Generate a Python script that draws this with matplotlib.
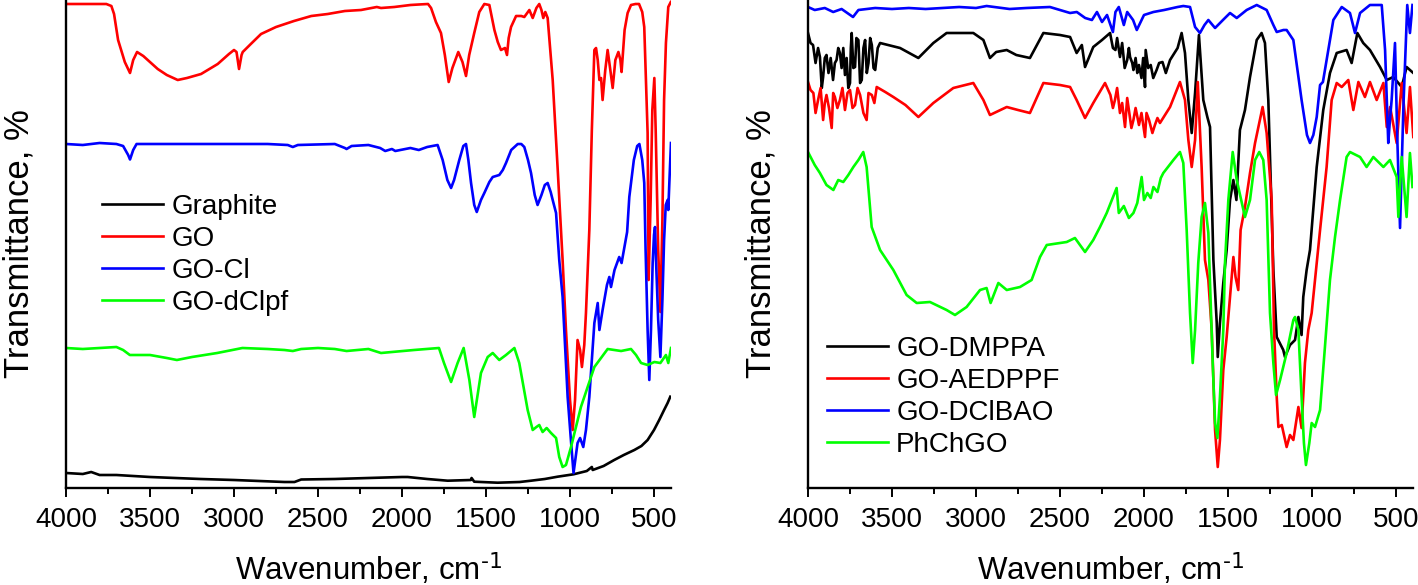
import matplotlib
matplotlib.use('Agg')
import matplotlib.pyplot as plt
from matplotlib.ticker import MultipleLocator, NullLocator

plt.rcParams['font.family'] = ['Liberation Sans', 'DejaVu Sans']
plt.rcParams['mathtext.default'] = 'regular'

# transmittance in arbitrary units (0 = bottom of the axis), spectra are offset as in the figure
# ---- left panel ----
graphite_wn = [4000, 3900, 3850, 3800, 3700, 3600, 3500, 3350, 3200, 3000, 2850, 2700, 2640,
               2600, 2400, 2200, 2000, 1966, 1850, 1728, 1590, 1586, 1570, 1431, 1300, 1232,
               1150, 1074, 979, 900, 870, 865, 800, 737, 680, 617, 575, 538, 500, 469, 440,
               419, 403]
graphite_t = [15, 14, 16, 13, 13, 12, 11, 10, 9, 8, 7, 6, 6,
              8.5, 9, 10, 11, 11, 9, 7.3, 8, 10, 6.3, 5.3, 6, 7.3,
              9, 11.3, 13.7, 17, 21, 18, 22, 28, 33, 38, 42, 48, 58, 68, 78,
              85, 91.3]

go_wn = [4000, 3850, 3760, 3730, 3714, 3690, 3650, 3619, 3600, 3577, 3540, 3454, 3400, 3335,
         3280, 3196, 3097, 3030, 3000, 2985, 2970, 2955, 2948, 2900, 2839, 2750, 2643, 2540,
         2442, 2340, 2244, 2150, 2125, 2046, 1950, 1900, 1845, 1827, 1798, 1768, 1745, 1722,
         1700, 1665, 1640, 1619, 1600, 1570, 1540, 1510, 1480, 1450, 1430, 1411, 1387, 1375,
         1365, 1351, 1321, 1290, 1272, 1242, 1222, 1200, 1183, 1170, 1159, 1147, 1133, 1103,
         1074, 1044, 1024, 1000, 984, 970, 955, 940, 929, 915, 905, 885, 870, 855, 845, 835,
         825, 815, 806, 790, 776, 760, 746, 730, 712, 700, 693, 675, 657, 637, 610, 589, 570,
         558, 548, 538, 532, 520, 510, 498, 490, 475, 462, 450, 440, 429, 415, 400]
go_t = [484, 484, 484, 482, 474, 448, 426, 415, 428, 436, 432, 419, 413, 408,
        410, 414, 424, 434, 438, 436, 419, 433, 436, 444, 454, 461, 467, 472,
        474, 477, 478, 481, 480, 481, 483, 483.5, 484, 480, 466, 455, 433, 406,
        420, 436, 426, 412, 433, 455, 476, 484, 483, 458, 446, 438, 440, 433,
        450, 461, 472, 472, 471, 478, 470, 480, 484, 478, 470, 476, 470, 408,
        321, 228, 158, 88, 58, 88, 148, 138, 121, 143, 175, 258, 358, 438, 440, 428,
        408, 410, 388, 418, 438, 418, 400, 428, 436, 428, 416, 458, 475, 483, 484, 484, 476,
        461, 408, 355, 208, 288, 378, 410, 358, 238, 176, 268, 388, 445, 481, 486]

gocl_wn = [4000, 3900, 3800, 3700, 3660, 3630, 3619, 3600, 3580, 3400, 3200, 3000, 2800, 2680,
           2650, 2620, 2400, 2340, 2330, 2300, 2200, 2130, 2100, 2060, 2040, 1950, 1900, 1850,
           1788, 1758, 1730, 1708, 1690, 1659, 1635, 1619, 1605, 1589, 1570, 1555, 1530, 1510,
           1480, 1460, 1421, 1400, 1381, 1350, 1311, 1290, 1272, 1250, 1232, 1210, 1193, 1170,
           1150, 1133, 1115, 1103, 1083, 1064, 1044, 1014, 990, 979, 967, 955, 940, 921, 905,
           885, 855, 835, 825, 806, 780, 766, 756, 735, 707, 693, 660, 647, 620, 600, 587, 570,
           558, 550, 538, 528, 518, 508, 500, 494, 488, 475, 462, 450, 440, 430, 419, 415, 408,
           399]
gocl_t = [344, 343, 345, 344, 342, 333, 328.5, 338, 344, 344, 344, 344, 344, 343,
          341, 343, 344, 340, 339, 342, 343, 340, 337, 339, 337, 340, 338, 341,
          343, 328, 308, 300, 308, 328, 342, 344, 328, 305, 283, 276, 288, 295,
          306, 311, 313, 318, 325, 338, 344, 344, 341, 328, 315, 293, 283, 293,
          303, 305, 296, 288, 275, 228, 191, 91, 38, 15, 30, 45, 50, 41, 58,
          91, 165, 185, 158, 178, 203, 211, 201, 218, 231, 225, 256, 291, 328, 342, 344, 328,
          305, 238, 158, 108, 158, 225, 253, 261, 228, 168, 131, 188, 248, 283, 288, 278, 308,
          345]

godclpf_wn = [4000, 3900, 3800, 3700, 3660, 3620, 3500, 3400, 3340, 3250, 3100, 2950, 2800,
              2700, 2650, 2600, 2500, 2400, 2330, 2200, 2125, 1929, 1780, 1750, 1708, 1669,
              1633, 1599, 1570, 1530, 1490, 1460, 1421, 1381, 1331, 1302, 1252, 1222, 1200,
              1183, 1163, 1139, 1113, 1083, 1064, 1044, 1024, 994, 935, 855, 776, 696, 637,
              607, 577, 538, 498, 462, 429, 415, 399]
godclpf_t = [140, 139, 140, 141, 138, 133, 133, 130, 128, 131, 135, 140, 139,
             138, 137, 139, 140, 139, 137, 139, 135, 138, 140, 125, 106, 125,
             140, 108, 71, 115, 131, 135, 128, 133, 140, 125, 78, 58, 61,
             63, 56, 60, 55, 50, 31, 21, 23, 41, 81, 121, 139, 137, 139,
             133, 125, 123, 126, 125, 133, 125, 140]

# ---- right panel ----
dmppa_wn = [4000, 3985, 3970, 3955, 3940, 3929, 3918, 3910, 3900, 3890, 3878, 3865, 3851, 3840,
            3830, 3820, 3810, 3800, 3790, 3780, 3770, 3760, 3750, 3745, 3740, 3730, 3720, 3712,
            3700, 3690, 3680, 3670, 3660, 3650, 3640, 3630, 3620, 3610, 3600, 3585, 3571, 3452,
            3343, 3254, 3175, 3016, 2956, 2917, 2880, 2817, 2760, 2679, 2599, 2500, 2440, 2401,
            2370, 2351, 2302, 2250, 2202, 2185, 2170, 2160, 2143, 2130, 2115, 2100, 2090, 2083,
            2070, 2063, 2050, 2040, 2030, 2015, 2005, 1994, 1990, 1975, 1960, 1945, 1925, 1910,
            1890, 1870, 1845, 1800, 1776, 1756, 1736, 1716, 1696, 1673, 1647, 1623, 1607, 1587,
            1567, 1561, 1548, 1528, 1508, 1488, 1468, 1450, 1429, 1399, 1369, 1329, 1300, 1280,
            1260, 1230, 1210, 1171, 1161, 1131, 1101, 1081, 1062, 1052, 1032, 1012, 972, 933,
            893, 853, 794, 764, 730, 695, 655, 595, 555, 516, 466, 437, 397]
dmppa_t = [455, 445, 443, 425, 440, 431, 400, 411, 430, 433, 415, 430, 408, 425,
           428, 440, 435, 420, 440, 413, 430, 400, 405, 440, 455, 420, 421, 450,
           448, 405, 408, 440, 448, 415, 425, 450, 443, 420, 418, 440, 445, 440,
           430, 445, 455, 455, 448, 430, 436, 438, 433, 430, 455, 453, 451, 435,
           443, 421, 441, 448, 455, 440, 438, 450, 431, 445, 420, 428, 440, 431,
           425, 418, 430, 415, 423, 410, 430, 401, 438, 420, 423, 410, 418, 425,
           426, 415, 428, 440, 455, 435, 388, 355, 395, 453, 388, 371, 361, 228,
           165, 131, 165, 205, 238, 288, 308, 288, 358, 378, 411, 448, 455, 445,
           388, 218, 151, 138, 131, 143, 148, 171, 153, 191, 218, 238, 321, 378,
           415, 435, 438, 425, 455, 445, 438, 421, 408, 411, 401, 421, 415]

aedppf_wn = [4000, 3985, 3968, 3955, 3940, 3925, 3910, 3900, 3890, 3875, 3859, 3850, 3840, 3825,
             3810, 3795, 3780, 3765, 3750, 3735, 3720, 3705, 3690, 3670, 3651, 3640, 3620, 3605,
             3591, 3540, 3492, 3420, 3343, 3254, 3135, 3016, 2956, 2917, 2817, 2750, 2679, 2599,
             2500, 2440, 2401, 2351, 2302, 2232, 2200, 2185, 2173, 2160, 2143, 2130, 2113, 2100,
             2090, 2075, 2063, 2050, 2030, 2015, 1994, 1985, 1970, 1950, 1935, 1920, 1905, 1845,
             1786, 1756, 1736, 1716, 1696, 1680, 1657, 1637, 1617, 1597, 1577, 1561, 1548, 1528,
             1508, 1488, 1468, 1455, 1439, 1425, 1399, 1369, 1339, 1294, 1270, 1240, 1226, 1210,
             1200, 1180, 1151, 1131, 1111, 1081, 1062, 1042, 1022, 1002, 972, 952, 913, 883, 853,
             823, 784, 754, 724, 685, 655, 615, 575, 555, 535, 496, 466, 437, 417, 397]
aedppf_t = [406, 398, 395, 375, 388, 400, 368, 385, 393, 380, 360, 395, 391, 380,
            388, 400, 378, 395, 398, 380, 383, 400, 393, 375, 368, 395, 393, 385,
            401, 396, 391, 383, 371, 385, 400, 405, 388, 373, 381, 378, 375, 405,
            403, 401, 388, 370, 385, 405, 393, 380, 388, 400, 375, 385, 361, 390,
            378, 360, 368, 380, 363, 375, 351, 375, 368, 355, 363, 370, 365, 381,
            406, 388, 348, 321, 348, 406, 321, 228, 208, 158, 58, 21, 48, 118,
            151, 191, 231, 211, 198, 258, 281, 315, 345, 381, 355, 288, 158, 91,
            61, 63, 41, 53, 48, 81, 60, 125, 158, 175, 225, 258, 321, 388, 405,
            401, 408, 378, 406, 391, 406, 388, 405, 361, 381, 345, 405, 355, 401, 351]

dclbao_wn = [4000, 3960, 3900, 3850, 3800, 3732, 3700, 3600, 3500, 3400, 3300, 3200, 3100, 3000,
             2937, 2800, 2700, 2560, 2500, 2440, 2400, 2350, 2310, 2280, 2250, 2220, 2185, 2170,
             2150, 2120, 2100, 2065, 2043, 2000, 1944, 1880, 1800, 1766, 1726, 1696, 1667, 1640,
             1617, 1577, 1530, 1488, 1448, 1389, 1329, 1270, 1230, 1210, 1170, 1151, 1111, 1062,
             1030, 1012, 992, 972, 952, 935, 873, 823, 774, 744, 714, 655, 585, 565, 546, 536,
             526, 506, 492, 476, 466, 456, 433, 417, 402]
dclbao_t = [481, 478, 480, 476, 479, 471, 478, 480, 479, 480, 479, 480, 481, 480,
            482, 479, 480, 481, 478, 475, 476, 470, 468, 476, 466, 473, 456, 476,
            481, 463, 476, 468, 458, 473, 476, 478, 481, 482, 481, 461, 455, 463,
            468, 460, 468, 475, 470, 478, 483, 478, 463, 456, 458, 458, 448, 388,
            353, 345, 353, 371, 403, 406, 468, 481, 475, 455, 475, 483, 483, 438, 345, 368,
            388, 445, 348, 260, 321, 381, 483, 455, 483]

phchgo_wn = [4000, 3960, 3929, 3890, 3849, 3820, 3790, 3760, 3730, 3700, 3671, 3651, 3621, 3571,
             3492, 3413, 3353, 3274, 3175, 3125, 3056, 2976, 2937, 2913, 2867, 2817, 2738, 2669,
             2619, 2579, 2460, 2411, 2351, 2302, 2262, 2222, 2163, 2150, 2120, 2090, 2063, 2040,
             2014, 2000, 1980, 1960, 1944, 1920, 1900, 1885, 1825, 1786, 1766, 1746, 1726, 1710,
             1696, 1677, 1657, 1637, 1617, 1611, 1591, 1577, 1563, 1548, 1528, 1518, 1498, 1472,
             1448, 1399, 1369, 1339, 1314, 1290, 1270, 1250, 1230, 1214, 1190, 1151, 1111, 1101,
             1081, 1062, 1048, 1036, 1016, 1002, 982, 952, 923, 893, 863, 833, 794, 774, 714, 675,
             635, 575, 536, 496, 486, 466, 437, 417, 402]
phchgo_t = [336, 323, 315, 303, 298, 308, 306, 313, 321, 328, 336, 321, 261, 238,
            218, 193, 185, 186, 178, 173, 181, 198, 200, 185, 205, 198, 201, 208,
            231, 243, 246, 250, 236, 248, 261, 275, 300, 275, 282, 270, 275, 285,
            311, 288, 295, 290, 301, 296, 310, 315, 328, 336, 325, 258, 175, 125,
            158, 225, 271, 285, 255, 225, 125, 65, 50, 91, 158, 225, 288, 336,
            308, 271, 288, 328, 336, 328, 288, 175, 125, 93, 108, 135, 168, 171,
            158, 91, 45, 23, 45, 65, 61, 78, 141, 208, 251, 288, 331, 336, 331, 321,
            331, 321, 328, 311, 271, 331, 271, 335, 301]

left_series = [
    ('Graphite', graphite_wn, graphite_t, 'black'),
    ('GO', go_wn, go_t, '#ff0000'),
    ('GO-Cl', gocl_wn, gocl_t, '#0000ff'),
    ('GO-dClpf', godclpf_wn, godclpf_t, '#00ff00'),
]
right_series = [
    ('GO-DMPPA', dmppa_wn, dmppa_t, 'black'),
    ('GO-AEDPPF', aedppf_wn, aedppf_t, '#ff0000'),
    ('GO-DClBAO', dclbao_wn, dclbao_t, '#0000ff'),
    ('PhChGO', phchgo_wn, phchgo_t, '#00ff00'),
]


def style_axis(ax):
    """FTIR-style axis: reversed wavenumber, no y ticks"""
    ax.set_xlim(4000, 400)
    ax.set_ylim(0, 488)
    ax.xaxis.set_major_locator(MultipleLocator(500))
    ax.xaxis.set_minor_locator(MultipleLocator(250))
    ax.yaxis.set_major_locator(NullLocator())
    ax.spines['top'].set_visible(False)
    ax.spines['right'].set_visible(False)
    ax.spines['left'].set_linewidth(1.7)
    ax.spines['bottom'].set_linewidth(1.7)
    ax.tick_params(axis='x', which='major', direction='out', length=6.5, width=1.4,
                   labelsize=20, pad=7)
    ax.tick_params(axis='x', which='minor', direction='out', length=4, width=1.4)
    ax.set_xlabel(r'Wavenumber, cm$^{\text{-1}}$', fontsize=22.5, labelpad=13)
    ax.set_ylabel('Transmittance, %', fontsize=25)
    ax.yaxis.set_label_coords(-0.051, 0.5)


fig = plt.figure(figsize=(14.18, 5.85), dpi=100)
ax_left = fig.add_axes([66 / 1418, 97 / 585, 604.8 / 1418, 488 / 585])
ax_right = fig.add_axes([808 / 1418, 97 / 585, 604.8 / 1418, 488 / 585])

for name, wn, t, color in left_series:
    ax_left.plot(wn, t, color=color, lw=1.9, label=name)
for name, wn, t, color in right_series:
    ax_right.plot(wn, t, color=color, lw=1.9, label=name)

for ax in (ax_left, ax_right):
    style_axis(ax)

ax_left.legend(loc='upper left', bbox_to_anchor=(0.059, 0.603), frameon=False,
               fontsize=20, handlelength=2.2, handletextpad=0.3, labelspacing=0.22,
               borderpad=0, borderaxespad=0)
ax_right.legend(loc='upper left', bbox_to_anchor=(0.031, 0.312), frameon=False,
                fontsize=20, handlelength=2.2, handletextpad=0.3, labelspacing=0.22,
                borderpad=0, borderaxespad=0)

fig.savefig('out.png', dpi=100)
